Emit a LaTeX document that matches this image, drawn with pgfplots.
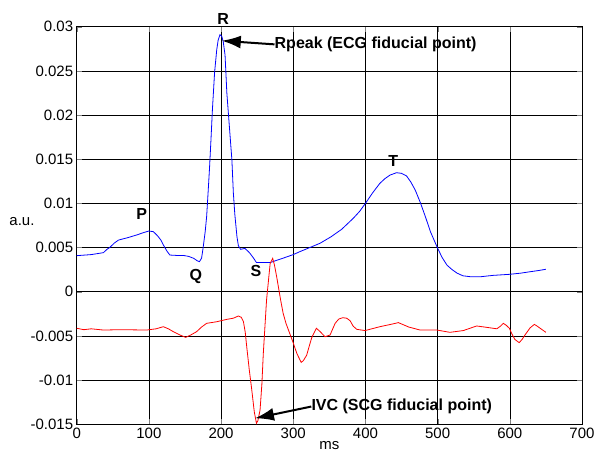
\documentclass[border=0pt]{standalone}
\usepackage{fontspec}
\setmainfont{Liberation Sans}
\usepackage{pgfplots}
\pgfplotsset{compat=1.18}
\usetikzlibrary{arrows.meta}

\pgfplotstableread{
x y
0 0.00408
20 0.0042
37 0.00442
42 0.0048
46 0.00502
52 0.0055
58 0.00585
70 0.0061
83 0.00642
93 0.0067
100 0.00687
106 0.0068
110 0.0065
113 0.00623
117 0.0058
120 0.0053
125 0.0046
129 0.00415
140 0.0041
148 0.0041
155 0.0040
162 0.00378
167 0.0035
170 0.0034
173 0.0038
175 0.0049
178 0.0068
180 0.0085
182 0.0112
184 0.0140
186 0.0172
188 0.0206
191 0.0248
194 0.0274
196 0.0285
198.5 0.0291
201 0.0289
203 0.0283
205.5 0.0268
208 0.0225
211.5 0.0187
215 0.0149
217 0.0112
219 0.0088
222 0.00623
224 0.0052
227 0.0048
233 0.0049
237 0.0046
240 0.00435
245 0.0038
249 0.0033
268 0.0033
286 0.0038
300 0.0042
309 0.00453
320 0.0049
337 0.00548
352 0.0062
367 0.00706
383 0.0083
392 0.0091
400 0.0100
410 0.0112
420 0.01227
427 0.0128
434 0.0132
443 0.01347
450 0.0134
457 0.0131
463 0.0124
469 0.0115
476 0.0101
483 0.0085
490 0.0068
499 0.0051
506 0.0039
513 0.0030
520 0.0025
527 0.0021
535 0.0018
545 0.0017
560 0.0017
577 0.00185
600 0.00197
615 0.0021
628 0.00226
640 0.0024
650 0.00254
}\ecg

\pgfplotstableread{
x y
0 -0.00414
10 -0.0043
20 -0.0042
37 -0.00434
60 -0.0043
80 -0.00432
97 -0.00434
110 -0.0042
120 -0.00396
127 -0.0042
134 -0.00453
143 -0.0049
151 -0.00517
158 -0.0049
166 -0.00453
173 -0.0040
180 -0.00358
194 -0.0034
208 -0.00313
217 -0.0030
224 -0.00275
228 -0.0029
231 -0.0034
233.5 -0.0046
235.5 -0.0062
239 -0.0088
242.5 -0.0111
246 -0.0136
249 -0.0149
251 -0.0146
254 -0.0134
256.5 -0.0105
258.5 -0.0070
263 -0.00094
268 0.0032
271.5 0.00378
274 0.0030
277 0.0017
282.5 -0.00094
286 -0.00245
290 -0.0036
295 -0.0047
300 -0.0058
305 -0.0070
311 -0.0080
314 -0.0078
318.5 -0.0072
322 -0.0062
325.6 -0.0052
332 -0.00414
337 -0.0045
344 -0.0051
351 -0.0049
358 -0.00358
363 -0.0031
368.5 -0.00294
374 -0.0030
378.7 -0.00328
383 -0.0039
388 -0.00426
399.5 -0.0044
420 -0.00396
435 -0.0037
445.6 -0.0035
460 -0.0040
475.7 -0.00434
499 -0.00434
517 -0.0046
535.6 -0.0044
554 -0.00388
565 -0.0040
582 -0.0042
587 -0.0039
591 -0.00358
595 -0.0038
599.4 -0.00414
603 -0.0048
607 -0.0054
613 -0.00577
617 -0.0054
621 -0.0049
628 -0.0041
634 -0.0037
638 -0.0039
642 -0.00414
650 -0.0046
}\scg

\begin{document}
\begin{tikzpicture}[annot/.style={font=\fontsize{16}{19}\selectfont\bfseries}]
\begin{axis}[
  scale only axis,
  width=505.3pt, height=397.5pt,
  xmin=0, xmax=700, ymin=-0.015, ymax=0.03,
  xtick={0,100,200,300,400,500,600,700},
  ytick={-0.015,-0.01,-0.005,0,0.005,0.01,0.015,0.02,0.025,0.03},
  scaled y ticks=false,
  yticklabel style={/pgf/number format/fixed, /pgf/number format/precision=3},
  /pgf/number format/assume math mode=true,
  tick label style={font=\fontsize{15}{18}\selectfont},
  tick align=inside, tick pos=both,
  major tick length=5pt,
  grid=major,
  major grid style={black, line width=0.5pt},
  axis line style={black, line width=0.8pt},
  xlabel={ms}, xlabel style={font=\fontsize{15}{18}\selectfont, yshift=4pt},
  clip=false,
]
\addplot[blue, line width=0.8pt] table {\ecg};
\addplot[red, line width=0.8pt] table {\scg};

\node[annot] at (axis cs:203,0.0309) {R};
\node[annot] at (axis cs:90,0.00876) {P};
\node[annot] at (axis cs:165,0.0017) {Q};
\node[annot] at (axis cs:248.5,0.00238) {S};
\node[annot] at (axis cs:438.7,0.01483) {T};

\node[annot, anchor=west, inner sep=0pt] (rp) at (axis cs:274,0.0280) {Rpeak (ECG fiducial point)};
\draw[line width=2pt, -{Latex[length=19pt,width=13pt]}] (rp.west) -- (axis cs:201,0.02841);
\node[annot, anchor=west, inner sep=0pt] (ivc) at (axis cs:325,-0.0130) {IVC (SCG fiducial point)};
\draw[line width=2pt, -{Latex[length=19pt,width=13pt]}] (ivc.west) -- (axis cs:247,-0.01433);

\node[font=\fontsize{15}{18}\selectfont] at ([xshift=-54.7pt]axis cs:0,0.00792) {a.u.};
\end{axis}
\pgfresetboundingbox
\path ([shift={(-76.7pt,-41.8pt)}]current axis.south west) rectangle ([shift={(15pt,26.7pt)}]current axis.north east);
\end{tikzpicture}
\end{document}
